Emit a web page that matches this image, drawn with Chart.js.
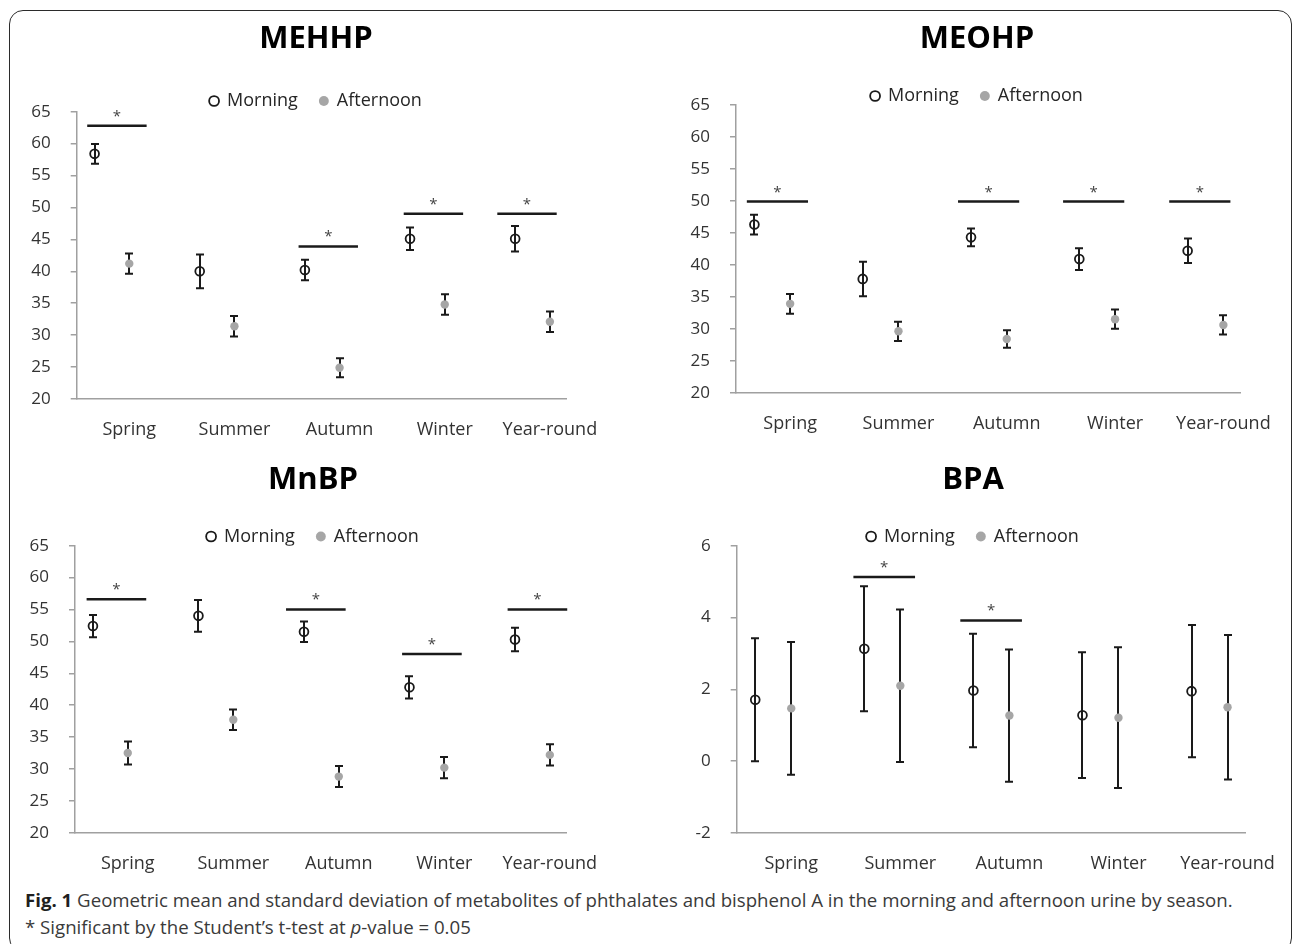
<!DOCTYPE html>
<html>
<head>
<meta charset="utf-8">
<script src="https://cdn.jsdelivr.net/npm/chart.js@4.4.0/dist/chart.umd.min.js"></script>
<style>
  html, body { margin: 0; padding: 0; background: #fff; }
  #page { position: relative; width: 1296px; height: 944px; overflow: hidden; background: #fff; }
  #frame { position: absolute; left: 9px; top: 10px; width: 1281px; height: 940px;
           border: 1.5px solid #2b2b2b; border-radius: 14px; }
  canvas { position: absolute; }
  #caption { position: absolute; left: 25px; top: 887px; font-family: 'Open Sans', sans-serif;
             font-size: 18.65px; line-height: 26.5px; color: #3a3a3a; white-space: nowrap; }
  #caption b { color: #1f1f1f; }
</style>
</head>
<body>
<div id="page">
  <div id="frame"></div>
  <canvas id="mehhp" width="648" height="450" style="left:0;top:0"></canvas>
  <canvas id="meohp" width="636" height="450" style="left:660px;top:0"></canvas>
  <canvas id="mnbp" width="648" height="430" style="left:0;top:450px"></canvas>
  <canvas id="bpa" width="636" height="430" style="left:660px;top:450px"></canvas>
  <div id="caption">
    <div><b>Fig. 1</b> Geometric mean and standard deviation of metabolites of phthalates and bisphenol A in the morning and afternoon urine by season.</div>
    <div>* Significant by the Student’s t-test at <i>p</i>-value = 0.05</div>
  </div>
</div>
<script>
const seasons = ['Spring', 'Summer', 'Autumn', 'Winter', 'Year-round'];
const seriesNames = ['Morning', 'Afternoon'];

// MEHHP
const mehhpMorning = [58.4, 40.0, 40.2, 45.1, 45.1];
const mehhpMorningSd = [1.55, 2.65, 1.6, 1.75, 2.0];
const mehhpAfternoon = [41.2, 31.4, 24.9, 34.8, 32.1];
const mehhpAfternoonSd = [1.6, 1.6, 1.5, 1.6, 1.6];
const mehhpSig = [[0.10, 62.8], [2.11, 43.9], [3.11, 49.0], [4.0, 49.0]];

// MEOHP
const meohpMorning = [46.3, 37.8, 44.3, 40.9, 42.2];
const meohpMorningSd = [1.55, 2.7, 1.4, 1.7, 1.9];
const meohpAfternoon = [33.9, 29.6, 28.4, 31.5, 30.6];
const meohpAfternoonSd = [1.55, 1.5, 1.35, 1.5, 1.5];
const meohpSig = [[0.10, 49.9], [2.05, 49.9], [3.02, 49.9], [4.0, 49.9]];

// MnBP
const mnbpMorning = [52.4, 54.0, 51.5, 42.8, 50.3];
const mnbpMorningSd = [1.75, 2.5, 1.6, 1.75, 1.85];
const mnbpAfternoon = [32.5, 37.7, 28.8, 30.2, 32.2];
const mnbpAfternoonSd = [1.8, 1.6, 1.65, 1.65, 1.65];
const mnbpSig = [[0.11, 56.6], [2.0, 55.0], [3.1, 48.0], [4.1, 55.0]];

// BPA
const bpaMorning = [1.71, 3.13, 1.97, 1.28, 1.95];
const bpaMorningSd = [1.71, 1.74, 1.58, 1.75, 1.84];
const bpaAfternoon = [1.47, 2.1, 1.27, 1.21, 1.5];
const bpaAfternoonSd = [1.85, 2.12, 1.84, 1.96, 2.01];
const bpaSig = [[1.07, 5.13], [2.05, 3.92]];

const phthalateTicks = [20, 65, 5];
const bpaTicks = [-2, 6, 2];

// x positions inside each season slot
const xMax = 4.66;
const morningAt = 0.17;
const afternoonAt = 0.5;
const sigWidth = 0.565;

const AXIS = '#a0a0a0';
const INK = '#1a1a1a';

const errorBars = {
  id: 'errorBars',
  beforeDatasetsDraw(chart) {
    const {ctx, scales: {x, y}} = chart;
    ctx.save();
    ctx.strokeStyle = INK;
    ctx.lineWidth = 2;
    chart.data.datasets.forEach(ds => {
      ds.data.forEach((p, i) => {
        const px = Math.round(x.getPixelForValue(p.x));
        const top = y.getPixelForValue(p.y + ds.sd[i]);
        const bot = y.getPixelForValue(p.y - ds.sd[i]);
        ctx.beginPath();
        ctx.moveTo(px, top); ctx.lineTo(px, bot);
        ctx.moveTo(px - 4, top); ctx.lineTo(px + 4, top);
        ctx.moveTo(px - 4, bot); ctx.lineTo(px + 4, bot);
        ctx.stroke();
      });
    });
    ctx.restore();
  }
};

const sigMarks = {
  id: 'sigMarks',
  afterDatasetsDraw(chart, args, opts) {
    const {ctx, scales: {x, y}} = chart;
    ctx.save();
    (opts.marks || []).forEach(([from, level]) => {
      const x0 = x.getPixelForValue(from);
      const x1 = x.getPixelForValue(from + sigWidth);
      const py = y.getPixelForValue(level);
      ctx.strokeStyle = INK;
      ctx.lineWidth = 2.5;
      ctx.beginPath();
      ctx.moveTo(x0, py); ctx.lineTo(x1, py);
      ctx.stroke();
      ctx.fillStyle = '#444';
      ctx.font = '15px "Open Sans"';
      ctx.textAlign = 'center';
      ctx.textBaseline = 'alphabetic';
      ctx.fillText('*', (x0 + x1) / 2, py - 5);
    });
    ctx.restore();
  }
};

// box: canvas position/size on the page, target plot area, title/legend centres (page px)
function buildPanel(id, title, box, ticks, morning, morningSd, afternoon, afternoonSd, sig) {
  const W = box.w, H = box.h;
  const aL = box.l - box.x, aR = box.r - box.x, aT = box.t - box.y, aB = box.b - box.y;
  const cx = box.cx - box.x, tY = box.titleY - box.y, lY = box.legendY - box.y;
  const padR = W - 2 * cx;
  const spacer = 2 * cx - aR;   // empty right box so title/legend centre on cx
  const titleFs = 31, titleLH = titleFs * 1.2;
  const legendFs = 18, legendPad = 22;
  const legendTop = lY - legendPad - legendFs / 2;

  new Chart(document.getElementById(id), {
    type: 'scatter',
    data: {
      datasets: [
        {
          label: seriesNames[0],
          data: morning.map((v, i) => ({x: i + morningAt, y: v})),
          sd: morningSd,
          pointStyle: 'circle',
          pointRadius: 4.4,
          backgroundColor: 'rgba(255,255,255,0)',
          borderColor: INK,
          borderWidth: 1.8
        },
        {
          label: seriesNames[1],
          data: afternoon.map((v, i) => ({x: i + afternoonAt, y: v})),
          sd: afternoonSd,
          pointStyle: 'circle',
          pointRadius: 4.2,
          backgroundColor: '#a6a6a6',
          borderColor: '#a6a6a6',
          borderWidth: 0
        }
      ]
    },
    options: {
      responsive: false,
      animation: false,
      layout: {padding: {left: 0, right: padR, top: 0, bottom: 0}},
      plugins: {
        tooltip: {enabled: false},
        title: {
          display: true,
          text: title,
          color: '#000',
          font: {family: 'Open Sans', size: titleFs, weight: 'bold', lineHeight: 1.2},
          padding: {top: tY - titleLH / 2, bottom: legendTop - (tY + titleLH / 2)}
        },
        legend: {
          display: true,
          position: 'top',
          maxHeight: aT - legendTop,
          labels: {
            usePointStyle: true,
            boxWidth: 8,
            boxHeight: 7,
            padding: legendPad,
            color: '#262626',
            font: {family: 'Open Sans', size: legendFs}
          }
        },
        sigMarks: {marks: sig}
      },
      scales: {
        x: {
          type: 'linear',
          min: 0,
          max: xMax,
          bounds: 'data',
          grid: {display: false},
          border: {display: true, color: AXIS, width: 1.5},
          ticks: {
            autoSkip: false,
            maxRotation: 0,
            padding: 12,
            color: '#333',
            font: {family: 'Open Sans', size: 18},
            callback: (v, i) => seasons[i]
          },
          afterBuildTicks: s => { s.ticks = seasons.map((_, i) => ({value: i + afternoonAt})); },
          afterFit: s => { s.height = H - aB; }
        },
        y: {
          min: ticks[0],
          max: ticks[1],
          grid: {drawOnChartArea: false, drawTicks: true, tickLength: 6, color: AXIS, lineWidth: 1.5},
          border: {color: AXIS, width: 1.5},
          ticks: {
            stepSize: ticks[2],
            padding: 20,
            color: '#333',
            font: {family: 'Open Sans', size: 17}
          },
          afterFit: s => { s.width = aL; }
        },
        spacer: {
          type: 'linear',
          position: 'right',
          grid: {display: false},
          border: {display: false},
          ticks: {display: false},
          afterFit: s => { s.width = spacer; }
        }
      }
    },
    plugins: [errorBars, sigMarks]
  });
}

buildPanel('mehhp', 'MEHHP',
  {x: 0, y: 0, w: 648, h: 450, l: 76.7, r: 566.7, t: 111.7, b: 399, cx: 316, titleY: 39, legendY: 101},
  phthalateTicks, mehhpMorning, mehhpMorningSd, mehhpAfternoon, mehhpAfternoonSd, mehhpSig);

buildPanel('meohp', 'MEOHP',
  {x: 660, y: 0, w: 636, h: 450, l: 736, r: 1240.7, t: 105, b: 392.7, cx: 977, titleY: 39, legendY: 96},
  phthalateTicks, meohpMorning, meohpMorningSd, meohpAfternoon, meohpAfternoonSd, meohpSig);

buildPanel('mnbp', 'MnBP',
  {x: 0, y: 450, w: 648, h: 430, l: 75, r: 566.7, t: 545.7, b: 832.7, cx: 313, titleY: 480, legendY: 536.5},
  phthalateTicks, mnbpMorning, mnbpMorningSd, mnbpAfternoon, mnbpAfternoonSd, mnbpSig);

buildPanel('bpa', 'BPA',
  {x: 660, y: 450, w: 636, h: 430, l: 736.7, r: 1245, t: 545.7, b: 833, cx: 973, titleY: 480, legendY: 536.5},
  bpaTicks, bpaMorning, bpaMorningSd, bpaAfternoon, bpaAfternoonSd, bpaSig);
</script>
</body>
</html>
